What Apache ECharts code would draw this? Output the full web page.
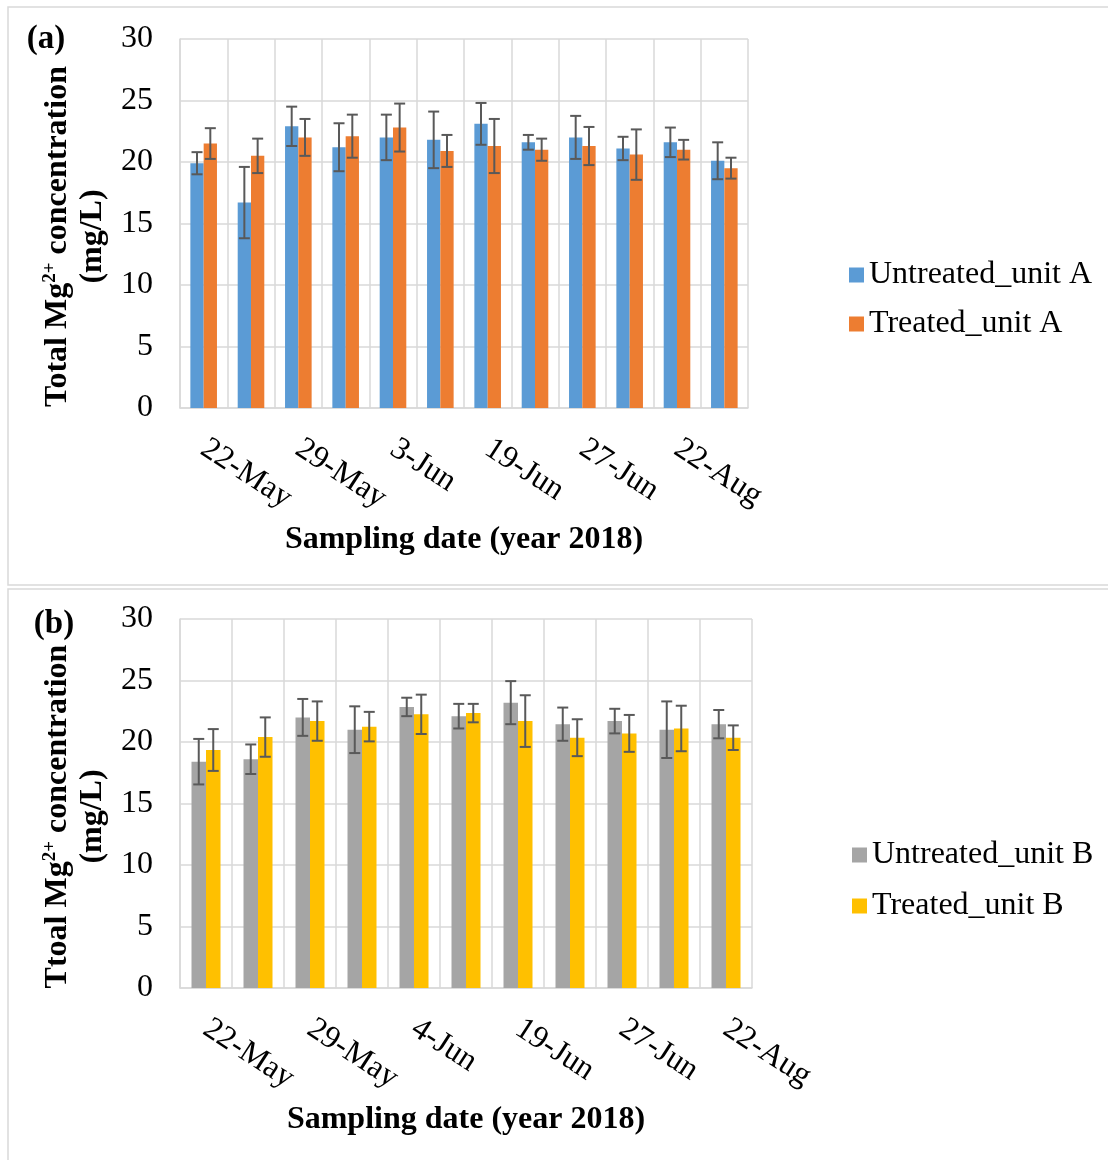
<!DOCTYPE html>
<html>
<head>
<meta charset="utf-8">
<script src="https://cdn.jsdelivr.net/npm/echarts@6/dist/echarts.min.js"></script>
<style>
html,body{margin:0;padding:0;background:#fff;}
#chart{width:1108px;height:1160px;}
</style>
</head>
<body>
<div id="chart"></div>
<script>
// ---- Panel (a) data ----
const datesA = ['22-May','24-May','29-May','31-May','3-Jun','12-Jun','19-Jun','21-Jun','27-Jun','4-Jul','22-Aug','29-Aug'];
const untreatedA    = [19.9, 16.7, 22.9, 21.2, 22.0, 21.8, 23.1, 21.6, 22.0, 21.1, 21.6, 20.1];
const untreatedAErr = [0.9, 2.9, 1.6, 1.95, 1.85, 2.3, 1.7, 0.6, 1.75, 0.95, 1.2, 1.5];
const treatedA      = [21.5, 20.5, 22.0, 22.1, 22.8, 20.9, 21.3, 21.0, 21.3, 20.6, 21.0, 19.5];
const treatedAErr   = [1.25, 1.4, 1.5, 1.75, 1.95, 1.3, 2.2, 0.9, 1.55, 2.05, 0.8, 0.85];

// ---- Panel (b) data ----
const datesB = ['22-May','24-May','29-May','31-May','4-Jun','12-Jun','19-Jun','21-Jun','27-Jun','4-Jul','22-Aug'];
const untreatedB    = [18.4, 18.6, 22.0, 21.0, 22.85, 22.1, 23.2, 21.45, 21.7, 21.0, 21.45];
const untreatedBErr = [1.85, 1.2, 1.5, 1.9, 0.75, 1.0, 1.75, 1.35, 1.0, 2.3, 1.15];
const treatedB      = [19.35, 20.4, 21.7, 21.25, 22.25, 22.35, 21.7, 20.35, 20.7, 21.1, 20.35];
const treatedBErr   = [1.7, 1.6, 1.6, 1.2, 1.6, 0.75, 2.1, 1.5, 1.5, 1.85, 1.0];

const yTicks = [0, 5, 10, 15, 20, 25, 30];

const FONT = "'Times New Roman', 'Liberation Serif', serif";
const GRID_C = '#d9d9d9';
const ERR_C = '#595959';
const BW_A = 13.3, BW_B = 14.5;
const FS = 32;

function errData(vals, errs){ return vals.map((v,i)=>[i, v, errs[i]]); }

function errSeries(name, vals, errs, axisIdx, offset){
  return {
    type:'custom', name: name, xAxisIndex:axisIdx, yAxisIndex:axisIdx, z:10,
    silent:true,
    data: errData(vals, errs),
    renderItem: function(params, api){
      const i = api.value(0), v = api.value(1), e = api.value(2);
      const c = api.coord([i, v]);
      const top = api.coord([i, v + e])[1];
      const bot = api.coord([i, v - e])[1];
      const x = c[0] + offset;
      const hw = 5.5;
      const st = {stroke: ERR_C, lineWidth: 2};
      return {type:'group', children:[
        {type:'line', shape:{x1:x, y1:top, x2:x, y2:bot}, style:st},
        {type:'line', shape:{x1:x-hw, y1:top, x2:x+hw, y2:top}, style:st},
        {type:'line', shape:{x1:x-hw, y1:bot, x2:x+hw, y2:bot}, style:st}
      ]};
    }
  };
}

function xAxisCfg(idx, cats){
  return {
    type:'category', gridIndex: idx, data: cats,
    boundaryGap:true,
    axisLine:{show:true, lineStyle:{color:GRID_C, width:1.5}},
    axisTick:{show:false},
    axisLabel:{interval:1, rotate:-33, margin:38, fontSize:FS, color:'#000', fontFamily:FONT},
    splitLine:{show:true, interval:0, lineStyle:{color:GRID_C, width:1.5}},
    name:'Sampling date (year 2018)', nameLocation:'middle', nameGap:116,
    nameTextStyle:{fontSize:FS, fontWeight:'bold', color:'#000', fontFamily:FONT}
  };
}

function yAxisCfg(idx, nameStr){
  return {
    type:'value', gridIndex: idx, min:0, max:30, interval:5,
    axisLine:{show:true, lineStyle:{color:GRID_C, width:1.5}},
    axisTick:{show:false},
    axisLabel:{margin:27, fontSize:FS, color:'#000', fontFamily:FONT,
      customValues: yTicks},
    splitLine:{show:true, lineStyle:{color:GRID_C, width:1.5}},
    name: nameStr, nameLocation:'middle', nameRotate:90, nameGap:63,
    nameTextStyle:{
      color:'#000', fontFamily:FONT, padding:[0,26,0,0], lineHeight:35,
      rich:{
        b:{fontSize:FS, fontWeight:'bold', color:'#000', fontFamily:FONT, lineHeight:35},
        sup:{fontSize:19, fontWeight:'bold', color:'#000', fontFamily:FONT, verticalAlign:'top', lineHeight:35}
      }
    }
  };
}

const chart = echarts.init(document.getElementById('chart'), null, {renderer:'canvas'});
const option = {
  backgroundColor:'#fff',
  animation:false,
  graphic:[
    {type:'rect', shape:{x:8, y:7, width:1112, height:578}, style:{fill:'none', stroke:GRID_C, lineWidth:1.5}, z:-10},
    {type:'rect', shape:{x:8, y:589, width:1112, height:580}, style:{fill:'none', stroke:GRID_C, lineWidth:1.5}, z:-10},
    {type:'text', style:{text:'(a)', x:46, y:39, align:'center', verticalAlign:'middle', fontSize:33, fontWeight:'bold', fontFamily:FONT, fill:'#000'}},
    {type:'text', style:{text:'(b)', x:54, y:624, align:'center', verticalAlign:'middle', fontSize:33, fontWeight:'bold', fontFamily:FONT, fill:'#000'}}
  ],
  grid:[
    {left:180, top:39, width:568, height:369},
    {left:180, top:619, width:572, height:369}
  ],
  legend:[
    {orient:'vertical', left:844, top:254, itemWidth:15, itemHeight:15, itemGap:17, icon:'rect',
     data:['Untreated_unit A','Treated_unit A'],
     textStyle:{fontSize:FS, color:'#000', fontFamily:FONT}},
    {orient:'vertical', left:847, top:834, itemWidth:15, itemHeight:15, itemGap:19, icon:'rect',
     data:['Untreated_unit B','Treated_unit B'],
     textStyle:{fontSize:FS, color:'#000', fontFamily:FONT}}
  ],
  xAxis:[xAxisCfg(0, datesA), xAxisCfg(1, datesB)],
  yAxis:[
    yAxisCfg(0, '{b|Total Mg}{sup|2+}{b| concentration}\n{b|(mg/L)}'),
    yAxisCfg(1, '{b|Ttoal Mg}{sup|2+}{b| concentration}\n{b|(mg/L)}')
  ],
  series:[
    {type:'bar', name:'Untreated_unit A', xAxisIndex:0, yAxisIndex:0, data:untreatedA, barWidth:BW_A, barGap:'0%', itemStyle:{color:'#5b9bd5'}},
    {type:'bar', name:'Treated_unit A', xAxisIndex:0, yAxisIndex:0, data:treatedA, barWidth:BW_A, barGap:'0%', itemStyle:{color:'#ed7d31'}},
    errSeries('errUA', untreatedA, untreatedAErr, 0, -BW_A/2),
    errSeries('errTA', treatedA, treatedAErr, 0, BW_A/2),
    {type:'bar', name:'Untreated_unit B', xAxisIndex:1, yAxisIndex:1, data:untreatedB, barWidth:BW_B, barGap:'0%', itemStyle:{color:'#a5a5a5'}},
    {type:'bar', name:'Treated_unit B', xAxisIndex:1, yAxisIndex:1, data:treatedB, barWidth:BW_B, barGap:'0%', itemStyle:{color:'#ffc000'}},
    errSeries('errUB', untreatedB, untreatedBErr, 1, -BW_B/2),
    errSeries('errTB', treatedB, treatedBErr, 1, BW_B/2)
  ]
};
chart.setOption(option);
</script>
</body>
</html>
